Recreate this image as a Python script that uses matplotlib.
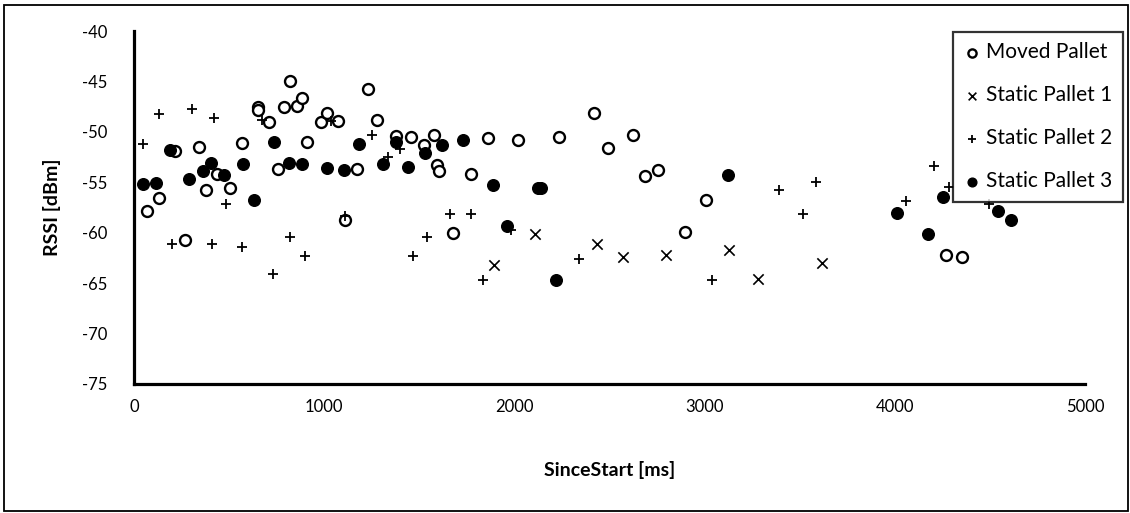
import matplotlib
matplotlib.use("Agg")
import matplotlib.pyplot as plt
from matplotlib.patches import Rectangle

plt.rcParams['font.family'] = ['Lato', 'DejaVu Sans']
plt.rcParams['axes.unicode_minus'] = False

moved_x = [70, 133, 215, 270, 342, 380, 438, 503, 566, 650, 653, 709, 758, 788, 820, 855, 885,
           911, 983, 1016, 1070, 1109, 1175, 1230, 1279, 1375, 1456, 1524, 1575, 1591, 1603,
           1676, 1774, 1862, 2021, 2235, 2421, 2490, 2622, 2687, 2755, 2899, 3006, 4267, 4354]
moved_y = [-57.8, -56.6, -51.9, -60.7, -51.5, -55.8, -54.2, -55.6, -51.1, -47.5, -47.8, -49.0,
           -53.7, -47.5, -45.0, -47.4, -46.6, -51.0, -49.0, -48.1, -48.9, -58.7, -53.7, -45.8,
           -48.8, -50.4, -50.5, -51.3, -50.3, -53.3, -53.9, -60.0, -54.2, -50.6, -50.8, -50.5,
           -48.1, -51.6, -50.3, -54.4, -53.8, -59.9, -56.8, -62.2, -62.4]

static1_x = [1895, 2109, 2433, 2573, 2796, 3128, 3279, 3615]
static1_y = [-63.2, -60.1, -61.1, -62.4, -62.2, -61.7, -64.6, -63.0]

static2_x = [47, 131, 201, 306, 408, 419, 483, 568, 671, 730, 820, 897, 1038, 1109, 1249, 1333,
             1398, 1468, 1538, 1664, 1771, 1834, 1981, 2342, 3037, 3391, 3516, 3584, 4057, 4206,
             4283, 4494]
static2_y = [-51.2, -48.2, -61.1, -47.7, -61.1, -48.6, -57.2, -61.4, -48.8, -64.1, -60.4, -62.3,
             -48.9, -58.3, -50.3, -52.5, -51.7, -62.3, -60.4, -58.1, -58.1, -64.7, -59.7, -62.6,
             -64.7, -55.8, -58.1, -55.0, -56.9, -53.4, -55.5, -57.2]

static3_x = [46, 116, 189, 289, 361, 403, 471, 571, 632, 734, 816, 884, 1016, 1105, 1184, 1310,
             1380, 1443, 1531, 1618, 1729, 1886, 1963, 2125, 2140, 2219, 3125, 4011, 4174, 4256,
             4545, 4612]
static3_y = [-55.2, -55.1, -51.8, -54.7, -53.9, -53.1, -54.3, -53.2, -56.8, -51.0, -53.1, -53.2,
             -53.6, -53.8, -51.2, -53.2, -51.0, -53.5, -52.1, -51.3, -50.8, -55.3, -59.3, -55.6,
             -55.6, -64.7, -54.3, -58.0, -60.1, -56.5, -57.8, -58.7]

x_ticks = [0, 1000, 2000, 3000, 4000, 5000]
y_ticks = [-75, -70, -65, -60, -55, -50, -45, -40]

W, H = 1130, 513
fig = plt.figure(figsize=(W / 100, H / 100), dpi=100)
ax = fig.add_axes([134 / W, 1 - 384 / H, (1085 - 134) / W, (384 - 31) / H])

ax.scatter(moved_x, moved_y, s=62, facecolors='white', edgecolors='black', linewidths=1.7,
           label='Moved Pallet', zorder=3)
ax.scatter(static1_x, static1_y, s=55, marker='x', color='black', linewidths=1.2,
           label='Static Pallet 1', zorder=3)
ax.scatter(static2_x, static2_y, s=60, marker='+', color='black', linewidths=1.3,
           label='Static Pallet 2', zorder=3)
ax.scatter(static3_x, static3_y, s=70, color='black', edgecolors='black',
           label='Static Pallet 3', zorder=3)

ax.set_xlim(0, 5000)
ax.set_ylim(-75, -40)
ax.set_xticks(x_ticks)
ax.set_yticks(y_ticks)
ax.tick_params(length=0, labelsize=12)
ax.tick_params(axis='x', pad=11)
ax.tick_params(axis='y', pad=19)
for s in ['top', 'right']:
    ax.spines[s].set_visible(False)
for s in ['left', 'bottom']:
    ax.spines[s].set_linewidth(2.3)
    ax.spines[s].set_color('black')

ax.set_xlabel('SinceStart [ms]', fontsize=14, fontweight='bold', labelpad=33)
ax.set_ylabel('RSSI [dBm]', fontsize=14, fontweight='bold', labelpad=15)

handles, labels = ax.get_legend_handles_labels()
leg = fig.legend(handles, labels, loc='upper right', bbox_to_anchor=(1123 / W, 1 - 32 / H),
                 frameon=True, fancybox=False, fontsize=15, labelspacing=1.1,
                 handletextpad=0.3, handlelength=0.8, borderpad=0.5, borderaxespad=0,
                 markerscale=0.75)
leg.get_frame().set_edgecolor('black')
leg.get_frame().set_linewidth(1.6)
leg.set_zorder(5)

fig.patches.append(Rectangle((4 / W, 2 / H), (1128 - 4) / W, (508 - 2) / H, transform=fig.transFigure,
                             fill=False, edgecolor='black', linewidth=1.3, zorder=10))

fig.savefig('out.png', dpi=100)
